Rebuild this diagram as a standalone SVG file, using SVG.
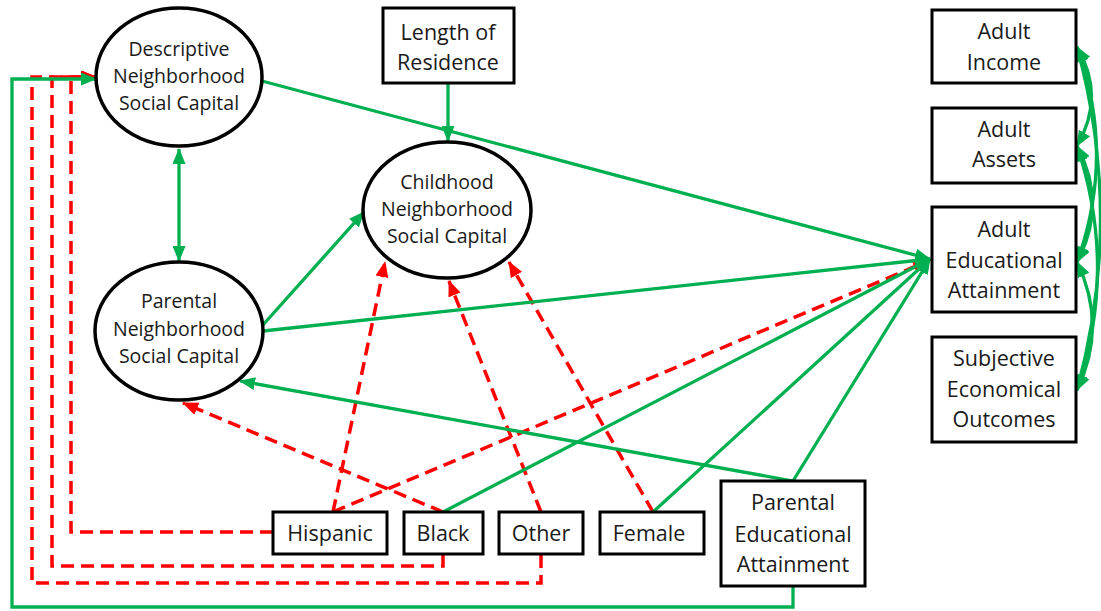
<svg xmlns="http://www.w3.org/2000/svg" width="1101" height="611" viewBox="0 0 1101 611">
  <style>
    .node-shape { fill: #ffffff; stroke: #000000; stroke-width: 3.5; }
    .box { fill: #ffffff; stroke: #000000; stroke-width: 3; }
    .label { font-family: "Open Sans", "Liberation Sans", sans-serif; fill: #1a1a1a; text-anchor: middle; }
    .ell { font-size: 19.5px; }
    .bx { font-size: 21.5px; }
    .pos { fill: none; stroke: #00B050; stroke-width: 3.3; }
    .neg { fill: none; stroke: #FF0000; stroke-width: 3.5; stroke-dasharray: 13 7; }
  </style>
  <defs>
    <marker id="gArrow" viewBox="0 0 16 13" refX="15" refY="6.5" markerWidth="16" markerHeight="13" markerUnits="userSpaceOnUse" orient="auto-start-reverse">
      <path d="M0,0 L16,6.5 L0,13 Z" fill="#00B050"/>
    </marker>
    <marker id="rArrow" viewBox="0 0 16 13" refX="15" refY="6.5" markerWidth="16" markerHeight="13" markerUnits="userSpaceOnUse" orient="auto-start-reverse">
      <path d="M0,0 L16,6.5 L0,13 Z" fill="#FF0000"/>
    </marker>
  </defs>
  <rect width="1101" height="611" fill="#ffffff"/>

  <!-- connectors -->
  <g id="connectors">
    <!-- dashed negative paths -->
    <path class="neg" d="M273,532 H71 V77 H96" marker-end="url(#rArrow)"/>
    <path class="neg" d="M443,555 V566 H52 V77 H96" marker-end="url(#rArrow)"/>
    <path class="neg" d="M541,555 V583 H32 V77 H96" marker-end="url(#rArrow)"/>
    <path class="neg" d="M333,512 L385,262" marker-end="url(#rArrow)"/>
    <path class="neg" d="M333,512 L928,261" marker-end="url(#rArrow)"/>
    <path class="neg" d="M443,512 L183,403" marker-end="url(#rArrow)"/>
    <path class="neg" d="M541,512 L449,281" marker-end="url(#rArrow)"/>
    <path class="neg" d="M653,512 L509,262" marker-end="url(#rArrow)"/>

    <!-- solid positive paths -->
    <path class="pos" d="M793,586 V607 H12 V79 H96" marker-end="url(#gArrow)"/>
    <path class="pos" d="M179,149 L179,261" marker-start="url(#gArrow)" marker-end="url(#gArrow)"/>
    <path class="pos" d="M448,84 L448,141" marker-end="url(#gArrow)"/>
    <path class="pos" d="M262,81 L930,259" marker-end="url(#gArrow)"/>
    <path class="pos" d="M262,326 L364,212" marker-end="url(#gArrow)"/>
    <path class="pos" d="M263,331 L930,259" marker-end="url(#gArrow)"/>
    <path class="pos" d="M443,512 L930,259" marker-end="url(#gArrow)"/>
    <path class="pos" d="M653,512 L930,259" marker-end="url(#gArrow)"/>
    <path class="pos" d="M793,481 L930,259" marker-end="url(#gArrow)"/>
    <path class="pos" d="M793,481 L240,381" marker-end="url(#gArrow)"/>

    <!-- correlations among adult outcomes -->
    <path class="pos" d="M1077,47 Q1106,96 1077,146" marker-start="url(#gArrow)" marker-end="url(#gArrow)"/>
    <path class="pos" d="M1077,47 Q1116,154 1077,262" marker-start="url(#gArrow)" marker-end="url(#gArrow)"/>
    <path class="pos" d="M1077,47 Q1124,218 1077,390" marker-start="url(#gArrow)" marker-end="url(#gArrow)"/>
    <path class="pos" d="M1077,146 Q1108,204 1077,262" marker-start="url(#gArrow)" marker-end="url(#gArrow)"/>
    <path class="pos" d="M1077,146 Q1118,268 1077,390" marker-start="url(#gArrow)" marker-end="url(#gArrow)"/>
    <path class="pos" d="M1077,262 Q1108,326 1077,390" marker-start="url(#gArrow)" marker-end="url(#gArrow)"/>
  </g>

  <!-- latent constructs -->
  <g id="descriptive-nsc">
    <ellipse class="node-shape" cx="179" cy="77" rx="83" ry="69"/>
    <text class="label ell" x="179" y="56">Descriptive</text>
    <text class="label ell" x="179" y="83">Neighborhood</text>
    <text class="label ell" x="179" y="110">Social Capital</text>
  </g>
  <g id="parental-nsc">
    <ellipse class="node-shape" cx="179" cy="331" rx="84" ry="69"/>
    <text class="label ell" x="179" y="308">Parental</text>
    <text class="label ell" x="179" y="336">Neighborhood</text>
    <text class="label ell" x="179" y="363">Social Capital</text>
  </g>
  <g id="childhood-nsc">
    <ellipse class="node-shape" cx="447" cy="210" rx="84" ry="68"/>
    <text class="label ell" x="447" y="189">Childhood</text>
    <text class="label ell" x="447" y="216">Neighborhood</text>
    <text class="label ell" x="447" y="243">Social Capital</text>
  </g>

  <!-- observed variables -->
  <g id="length-of-residence">
    <rect class="box" x="383" y="8" width="131" height="75"/>
    <text class="label bx" x="448" y="40">Length of</text>
    <text class="label bx" x="448" y="70">Residence</text>
  </g>
  <g id="adult-income">
    <rect class="box" x="932" y="10" width="144" height="73"/>
    <text class="label bx" x="1004" y="39">Adult</text>
    <text class="label bx" x="1004" y="70">Income</text>
  </g>
  <g id="adult-assets">
    <rect class="box" x="932" y="108" width="144" height="75"/>
    <text class="label bx" x="1004" y="137">Adult</text>
    <text class="label bx" x="1004" y="167">Assets</text>
  </g>
  <g id="adult-education">
    <rect class="box" x="932" y="207" width="144" height="105"/>
    <text class="label bx" x="1004" y="237">Adult</text>
    <text class="label bx" x="1004" y="268">Educational</text>
    <text class="label bx" x="1004" y="298">Attainment</text>
  </g>
  <g id="subjective-outcomes">
    <rect class="box" x="932" y="337" width="144" height="105"/>
    <text class="label bx" x="1004" y="366">Subjective</text>
    <text class="label bx" x="1004" y="397">Economical</text>
    <text class="label bx" x="1004" y="427">Outcomes</text>
  </g>
  <g id="hispanic">
    <rect class="box" x="273" y="512" width="114" height="42"/>
    <text class="label bx" x="330" y="541">Hispanic</text>
  </g>
  <g id="black">
    <rect class="box" x="404" y="512" width="79" height="42"/>
    <text class="label bx" x="443" y="541">Black</text>
  </g>
  <g id="other">
    <rect class="box" x="499" y="512" width="84" height="42"/>
    <text class="label bx" x="541" y="541">Other</text>
  </g>
  <g id="female">
    <rect class="box" x="600" y="512" width="104" height="42"/>
    <text class="label bx" x="649" y="541">Female</text>
  </g>
  <g id="parental-education">
    <rect class="box" x="721" y="481" width="144" height="105"/>
    <text class="label bx" x="793" y="510">Parental</text>
    <text class="label bx" x="793" y="542">Educational</text>
    <text class="label bx" x="793" y="572">Attainment</text>
  </g>
</svg>
